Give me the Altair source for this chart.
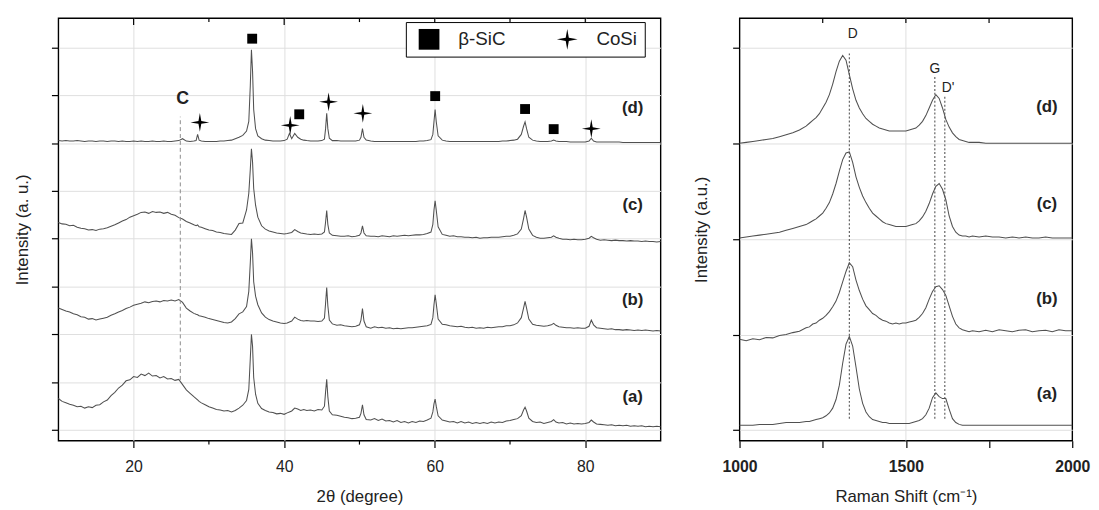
import altair as alt
import pandas as pd

# ---------------- XRD data (2theta in degrees, stacked intensities) ----------------
XRD_X = [
    10.0, 10.5, 11.0, 11.5, 12.0, 12.5, 13.0, 13.5, 14.0, 14.5,
    15.0, 15.5, 16.0, 16.5, 17.0, 17.5, 18.0, 18.5, 19.0, 19.5,
    20.0, 20.5, 21.0, 21.5, 22.0, 22.5, 23.0, 23.5, 24.0, 24.5,
    25.0, 25.5, 26.0, 26.5, 27.0, 27.5, 28.0,
    28.3, 28.5, 28.7, 29.0, 29.5, 30.0, 30.5, 31.0, 31.5, 32.0,
    32.5, 33.0, 33.5, 34.0, 34.5, 35.0, 35.3, 35.5, 35.65, 35.8,
    35.95, 36.2, 36.5, 37.0, 37.5, 38.0, 38.5, 39.0, 39.5, 40.0,
    40.4, 40.7, 41.0, 41.4, 41.8, 42.2, 42.6, 43.0, 43.5, 44.0,
    44.5, 45.0, 45.35, 45.5, 45.65, 45.8, 46.0, 46.4, 47.0, 47.5,
    48.0, 48.5, 49.0, 49.5, 50.0, 50.2, 50.4, 50.6, 50.9, 51.5,
    52.0, 52.5, 53.0, 53.5, 54.0, 54.5, 55.0, 55.5, 56.0, 56.5, 57.0, 57.5, 58.0, 58.5, 59.0,
    59.5, 59.75, 59.9, 60.05, 60.2, 60.45, 61.0,
    61.5, 62.0, 62.5, 63.0, 63.5, 64.0, 64.5, 65.0, 65.5, 66.0,
    66.5, 67.0, 67.5, 68.0, 68.5, 69.0, 69.5, 70.0, 70.5, 71.0,
    71.5, 71.8, 72.0, 72.2, 72.5, 73.0, 73.5, 74.0, 74.5, 75.0,
    75.5, 75.8, 76.1, 76.5, 77.0, 77.5, 78.0, 78.5, 79.0, 79.5,
    80.0, 80.5, 80.8, 81.1, 81.5, 82.0, 82.5, 83.0, 83.5, 84.0,
    84.5, 85.0, 85.5, 86.0, 86.5, 87.0, 87.5, 88.0, 88.5, 89.0, 89.5, 90.0,
]

XRD_D = [
    6.05, 6.04, 6.05, 6.04, 6.04, 6.05, 6.04, 6.03, 6.04, 6.04,
    6.03, 6.04, 6.04, 6.03, 6.04, 6.04, 6.03, 6.04, 6.03, 6.03,
    6.04, 6.03, 6.04, 6.03, 6.03, 6.04, 6.03, 6.03, 6.04, 6.03,
    6.03, 6.04, 6.05, 6.09, 6.04, 6.03, 6.04,
    6.05, 6.18, 6.06, 6.04, 6.03, 6.03, 6.03, 6.03, 6.04, 6.04,
    6.05, 6.06, 6.09, 6.12, 6.16, 6.25, 6.45, 7.20, 7.95, 7.50,
    6.70, 6.30, 6.15, 6.09, 6.06, 6.05, 6.04, 6.04, 6.04, 6.05,
    6.08, 6.20, 6.09, 6.20, 6.12, 6.08, 6.06, 6.05, 6.04, 6.04,
    6.04, 6.05, 6.08, 6.30, 6.62, 6.30, 6.10, 6.05, 6.05, 6.04,
    6.04, 6.04, 6.04, 6.04, 6.06, 6.12, 6.30, 6.12, 6.06, 6.04,
    6.03, 6.03, 6.03, 6.03, 6.03, 6.03, 6.03, 6.03, 6.03, 6.03, 6.03, 6.03, 6.04, 6.04, 6.05,
    6.07, 6.18, 6.45, 6.70, 6.45, 6.15, 6.06,
    6.04, 6.03, 6.03, 6.03, 6.03, 6.03, 6.03, 6.03, 6.03, 6.03,
    6.03, 6.03, 6.03, 6.03, 6.03, 6.04, 6.04, 6.05, 6.06, 6.08,
    6.18, 6.35, 6.44, 6.30, 6.12, 6.06, 6.04, 6.03, 6.03, 6.03,
    6.04, 6.06, 6.04, 6.03, 6.03, 6.03, 6.02, 6.02, 6.02, 6.02,
    6.02, 6.04, 6.10, 6.04, 6.02, 6.02, 6.02, 6.02, 6.02, 6.02,
    6.02, 6.01, 6.01, 6.01, 6.01, 6.01, 6.01, 6.01, 6.01, 6.01, 6.01, 6.01,
]

XRD_C = [
    4.34, 4.31, 4.30, 4.27, 4.28, 4.24, 4.22, 4.21, 4.18, 4.19,
    4.17, 4.20, 4.21, 4.23, 4.26, 4.29, 4.33, 4.37, 4.40, 4.45,
    4.48, 4.51, 4.55, 4.56, 4.53, 4.57, 4.55, 4.56, 4.53, 4.55,
    4.51, 4.49, 4.44, 4.41, 4.36, 4.33, 4.29,
    4.27, 4.29, 4.25, 4.24, 4.21, 4.18, 4.17, 4.14, 4.13, 4.11,
    4.10, 4.09, 4.18, 4.32, 4.33, 4.60, 4.95, 5.45, 5.88, 5.60,
    5.05, 4.70, 4.45, 4.27, 4.20, 4.16, 4.14, 4.12, 4.11, 4.10,
    4.11, 4.12, 4.13, 4.19, 4.15, 4.12, 4.11, 4.10, 4.09, 4.10,
    4.09, 4.10, 4.14, 4.35, 4.59, 4.30, 4.12, 4.07, 4.06, 4.05,
    4.05, 4.06, 4.04, 4.05, 4.07, 4.12, 4.27, 4.12, 4.06, 4.05,
    4.05, 4.04, 4.06, 4.05, 4.04, 4.06, 4.05, 4.06, 4.07, 4.06, 4.07, 4.08, 4.08, 4.09, 4.11,
    4.14, 4.30, 4.60, 4.79, 4.60, 4.25, 4.09,
    4.07, 4.05, 4.06, 4.04, 4.04, 4.03, 4.03, 4.02, 4.03, 4.01,
    4.02, 4.02, 4.03, 4.03, 4.03, 4.04, 4.05, 4.05, 4.07, 4.10,
    4.20, 4.42, 4.59, 4.45, 4.20, 4.07, 4.03, 4.01, 4.01, 4.02,
    4.03, 4.06, 4.03, 4.01, 3.99, 3.99, 3.98, 3.99, 3.98, 3.98,
    3.99, 4.01, 4.05, 4.02, 3.99, 3.97, 3.98, 3.97, 3.96, 3.97,
    3.96, 3.96, 3.95, 3.96, 3.95, 3.95, 3.94, 3.95, 3.94, 3.94, 3.93, 3.94,
]

XRD_B = [
    2.55, 2.52, 2.49, 2.47, 2.43, 2.41, 2.37, 2.36, 2.32, 2.33,
    2.30, 2.32, 2.34, 2.36, 2.40, 2.43, 2.47, 2.50, 2.54, 2.57,
    2.61, 2.63, 2.65, 2.68, 2.66, 2.69, 2.70, 2.68, 2.71, 2.70,
    2.72, 2.70, 2.73, 2.67, 2.55, 2.49, 2.44,
    2.42, 2.41, 2.39, 2.38, 2.36, 2.33, 2.31, 2.29, 2.27, 2.25,
    2.24, 2.26, 2.33, 2.43, 2.47, 2.58, 2.90, 3.50, 4.00, 3.70,
    3.10, 2.80, 2.62, 2.45, 2.36, 2.31, 2.28, 2.26, 2.24, 2.23,
    2.24, 2.26, 2.28, 2.36, 2.32, 2.29, 2.28, 2.29, 2.28, 2.28,
    2.27, 2.28, 2.34, 2.65, 2.98, 2.60, 2.30, 2.22, 2.19, 2.20,
    2.18, 2.17, 2.16, 2.17, 2.20, 2.30, 2.54, 2.28, 2.16, 2.13,
    2.16, 2.14, 2.15, 2.13, 2.14, 2.12, 2.13, 2.12, 2.13, 2.14, 2.14, 2.15, 2.16, 2.17, 2.18,
    2.21, 2.35, 2.62, 2.83, 2.65, 2.32, 2.21,
    2.20, 2.18, 2.17, 2.16, 2.17, 2.15, 2.14, 2.15, 2.13, 2.14,
    2.13, 2.15, 2.14, 2.15, 2.16, 2.16, 2.18, 2.18, 2.20, 2.24,
    2.35, 2.55, 2.69, 2.55, 2.32, 2.21, 2.19, 2.18, 2.17, 2.18,
    2.20, 2.23, 2.19, 2.16, 2.15, 2.14, 2.14, 2.13, 2.14, 2.13,
    2.13, 2.17, 2.30, 2.20, 2.14, 2.13, 2.12, 2.11, 2.12, 2.10,
    2.10, 2.09, 2.10, 2.09, 2.08, 2.09, 2.08, 2.09, 2.08, 2.07, 2.08, 2.07,
]

XRD_A = [
    0.66, 0.60, 0.57, 0.54, 0.52, 0.49, 0.50, 0.46, 0.49, 0.47,
    0.52, 0.53, 0.59, 0.63, 0.72, 0.79, 0.88, 0.94, 1.03, 1.05,
    1.12, 1.10, 1.17, 1.14, 1.19, 1.13, 1.14, 1.09, 1.12, 1.07,
    1.08, 1.04, 1.06, 0.95, 0.84, 0.77, 0.70,
    0.66, 0.63, 0.60, 0.57, 0.53, 0.49, 0.46, 0.43, 0.42, 0.40,
    0.41, 0.38, 0.41, 0.46, 0.52, 0.62, 0.85, 1.50, 2.00, 1.75,
    1.10, 0.75, 0.56, 0.45, 0.41, 0.38, 0.37, 0.34, 0.35, 0.33,
    0.36, 0.38, 0.40, 0.46, 0.44, 0.41, 0.43, 0.41, 0.42, 0.40,
    0.43, 0.42, 0.50, 0.80, 1.06, 0.70, 0.40, 0.32, 0.31, 0.29,
    0.27, 0.26, 0.24, 0.25, 0.27, 0.35, 0.53, 0.32, 0.22, 0.21,
    0.24, 0.20, 0.23, 0.19, 0.20, 0.17, 0.20, 0.16, 0.18, 0.15, 0.18, 0.16, 0.19, 0.18, 0.21,
    0.25, 0.38, 0.55, 0.65, 0.50, 0.30, 0.21,
    0.19, 0.17, 0.18, 0.15, 0.18, 0.15, 0.17, 0.14, 0.16, 0.14,
    0.16, 0.14, 0.17, 0.15, 0.17, 0.16, 0.19, 0.20, 0.22, 0.24,
    0.30, 0.42, 0.48, 0.40, 0.25, 0.18, 0.16, 0.17, 0.14, 0.16,
    0.18, 0.22, 0.17, 0.15, 0.16, 0.13, 0.15, 0.13, 0.14, 0.13,
    0.14, 0.16, 0.21, 0.17, 0.13, 0.12, 0.11, 0.10, 0.11, 0.09,
    0.10, 0.09, 0.10, 0.08, 0.09, 0.08, 0.09, 0.07, 0.08, 0.07, 0.08, 0.07,
]

XRD_TRACES = ["(a)", "(b)", "(c)", "(d)"]
XRD_LABEL_X = 86.3
XRD_LABEL_Y = [0.685, 2.72, 4.70, 6.74]

PHASES = ["β-SiC", "CoSi"]
SIC_X = [35.75, 42.0, 60.06, 72.0, 75.8]
SIC_Y = [8.18, 6.60, 6.98, 6.71, 6.29]
COSI_X = [28.8, 40.8, 45.9, 50.45, 80.8]
COSI_Y = [6.43, 6.37, 6.86, 6.62, 6.30]

C_LINE_X = 26.2
C_LINE_Y = [1.05, 6.55]
C_TEXT_X, C_TEXT_Y = 26.5, 6.91

XRD_MAJOR = [20, 40, 60, 80]
XRD_MINOR = [30, 50, 70]

# ---------------- Raman data ----------------
RAMAN_X = [
    1000, 1020, 1040, 1060, 1080, 1100, 1120, 1140, 1160, 1180, 1200,
    1210, 1220, 1230, 1240, 1250, 1260, 1270, 1280, 1290, 1300,
    1310, 1320, 1330, 1340, 1350, 1360, 1370, 1380, 1390, 1400,
    1410, 1420, 1430, 1440, 1450, 1460, 1470, 1480, 1490, 1500,
    1510, 1520, 1530, 1540, 1550, 1560, 1570, 1580, 1590, 1600,
    1610, 1620, 1630, 1640, 1650, 1660, 1670, 1680, 1690, 1700,
    1720, 1740, 1760, 1780, 1800, 1820, 1840, 1860, 1880, 1900,
    1920, 1940, 1960, 1980, 2000,
]

RAMAN_D = [
    3.00, 3.01, 3.02, 3.03, 3.04, 3.05, 3.07, 3.09, 3.11, 3.14, 3.18,
    3.21, 3.24, 3.27, 3.31, 3.37, 3.43, 3.51, 3.62, 3.75, 3.86,
    3.92, 3.87, 3.72, 3.57, 3.45, 3.37, 3.31, 3.26, 3.23, 3.20,
    3.18, 3.16, 3.15, 3.14, 3.13, 3.13, 3.13, 3.13, 3.13, 3.13,
    3.14, 3.15, 3.16, 3.19, 3.23, 3.29, 3.37, 3.45, 3.51, 3.47,
    3.37, 3.25, 3.17, 3.11, 3.07, 3.04, 3.03, 3.02, 3.01, 3.01,
    3.01, 3.00, 3.00, 3.00, 3.00, 3.00, 3.00, 3.00, 3.00, 3.00,
    3.00, 3.00, 3.00, 3.00, 3.00,
]

RAMAN_C = [
    2.01, 2.02, 2.03, 2.04, 2.05, 2.06, 2.07, 2.09, 2.11, 2.13, 2.15,
    2.17, 2.19, 2.21, 2.24, 2.27, 2.32, 2.38, 2.47, 2.58, 2.71,
    2.83, 2.90, 2.91, 2.80, 2.65, 2.54, 2.45, 2.38, 2.32, 2.27,
    2.24, 2.21, 2.18, 2.16, 2.15, 2.14, 2.13, 2.13, 2.13, 2.13,
    2.14, 2.15, 2.16, 2.19, 2.23, 2.29, 2.37, 2.47, 2.55, 2.58,
    2.52, 2.41, 2.24, 2.13, 2.07, 2.04, 2.03, 2.03, 2.02, 2.03,
    2.02, 2.03, 2.02, 2.02, 2.01, 2.02, 2.01, 2.02, 2.01, 2.01,
    2.02, 2.01, 2.01, 2.01, 2.01,
]

RAMAN_B = [
    0.950, 0.935, 0.955, 0.945, 0.970, 0.965, 0.990, 1.000, 1.020, 1.035, 1.070,
    1.08, 1.11, 1.12, 1.15, 1.17, 1.20, 1.24, 1.29, 1.35, 1.44,
    1.55, 1.66, 1.75, 1.71, 1.57, 1.46, 1.37, 1.30, 1.26, 1.22,
    1.20, 1.17, 1.15, 1.14, 1.12, 1.11, 1.12, 1.11, 1.12, 1.12,
    1.13, 1.14, 1.15, 1.18, 1.22, 1.28, 1.37, 1.45, 1.50, 1.51,
    1.47, 1.41, 1.30, 1.19, 1.11, 1.07, 1.05, 1.04, 1.03, 1.04,
    1.030, 1.045, 1.030, 1.050, 1.040, 1.030, 1.045, 1.050, 1.030, 1.040,
    1.045, 1.030, 1.050, 1.040, 1.040,
]

RAMAN_A = [
    0.05, 0.05, 0.05, 0.06, 0.06, 0.06, 0.07, 0.08, 0.08, 0.08, 0.09,
    0.09, 0.10, 0.11, 0.12, 0.13, 0.15, 0.18, 0.23, 0.32, 0.47,
    0.70, 0.90, 0.98, 0.88, 0.66, 0.43, 0.28, 0.19, 0.14, 0.11,
    0.10, 0.09, 0.08, 0.08, 0.07, 0.07, 0.07, 0.07, 0.07, 0.07,
    0.07, 0.08, 0.09, 0.10, 0.12, 0.16, 0.23, 0.34, 0.39, 0.35,
    0.33, 0.33, 0.22, 0.12, 0.08, 0.06, 0.05, 0.05, 0.05, 0.05,
    0.05, 0.05, 0.05, 0.05, 0.05, 0.05, 0.05, 0.05, 0.05, 0.05,
    0.05, 0.05, 0.05, 0.05, 0.05,
]

RAMAN_LABEL_X = 1924
RAMAN_LABEL_Y = [0.38, 1.375, 2.37, 3.38]
BAND_NAMES = ["D", "G", "D'"]
BAND_X = [1330, 1587, 1617]
BAND_TOP = [3.96, 3.70, 3.49]
BAND_BOTTOM = 0.12
BAND_TEXT_X = [1340, 1587, 1627]
BAND_TEXT_Y = [4.145, 3.78, 3.58]
RAMAN_TICKS = [1000, 1250, 1500, 1750, 2000]
RAMAN_TOP_TICKS = [1250, 1500, 1750]

# ---------------- build ----------------
FONT = "Liberation Sans"
INK = "#222222"
TRACE = "#505050"
GRID = "#dedede"
STAR = "M0,-1L0.15,-0.15L1,0L0.15,0.15L0,1L-0.15,0.15L-1,0L-0.15,-0.15Z"

LW, LH = 610, 428
RW, RH = 337, 428
PAD_L, PAD_T = 4, 5


def stack(xs, names, series):
    rows = []
    for name, ys in zip(names, series):
        assert len(ys) == len(xs), (name, len(ys), len(xs))
        rows += [{"x": x, "y": y, "trace": name} for x, y in zip(xs, ys)]
    return pd.DataFrame(rows)


xrd_df = stack(XRD_X, XRD_TRACES, [XRD_A, XRD_B, XRD_C, XRD_D])
raman_df = stack(RAMAN_X, XRD_TRACES, [RAMAN_A, RAMAN_B, RAMAN_C, RAMAN_D])

common_axis = dict(domain=False, tickSize=7, tickColor="black", tickWidth=1.2,
                   titleFontSize=17, titleFontWeight="normal", titleColor=INK,
                   labelColor=INK, gridColor=GRID, gridWidth=1)

XL = alt.X("x:Q", scale=alt.Scale(domain=[10, 90], nice=False, zero=False),
           axis=alt.Axis(values=XRD_MAJOR, title="2θ (degree)", grid=True, labelFontSize=16,
                         labelPadding=11, titlePadding=15, labelFlush=False, **common_axis))
YL = alt.Y("y:Q", scale=alt.Scale(domain=[-0.22, 8.61], nice=False, zero=False),
           axis=alt.Axis(values=list(range(9)), labels=False, grid=True,
                         title="Intensity (a. u.)", titlePadding=20, **common_axis))
XR = alt.X("x:Q", scale=alt.Scale(domain=[1000, 2000], nice=False, zero=False),
           axis=alt.Axis(values=RAMAN_TICKS, title="Raman Shift (cm⁻¹)", grid=False,
                         labelExpr="datum.value % 500 == 0 ? format(datum.value, 'd') : ''",
                         labelFontSize=16, labelFontWeight="bold", labelPadding=11,
                         titlePadding=15, labelFlush=False, **common_axis))
YR = alt.Y("y:Q", scale=alt.Scale(domain=[-0.11, 4.31], nice=False, zero=False),
           axis=alt.Axis(values=[0, 1, 2, 3, 4], labels=False, grid=True,
                         title="Intensity (a.u.)", titlePadding=22, **common_axis))

# ---- left: XRD ----
left_lines = alt.Chart(xrd_df).mark_line(color=TRACE, strokeWidth=1.05).encode(
    x=XL, y=YL, detail="trace:N")

c_line = alt.Chart(pd.DataFrame({"x": [C_LINE_X], "y": [C_LINE_Y[0]], "y2": [C_LINE_Y[1]]})).mark_rule(
    color="#8a8a8a", strokeWidth=1, strokeDash=[4, 3]).encode(x=XL, y=YL, y2="y2:Q")

c_text = alt.Chart(pd.DataFrame({"x": [C_TEXT_X], "y": [C_TEXT_Y], "t": ["C"]})).mark_text(
    fontSize=18, fontWeight="bold", color=INK).encode(x=XL, y=YL, text="t:N")

legend = alt.Legend(title=None, orient="none", direction="horizontal",
                    legendX=352, legendY=4, padding=7, gridAlign="all",
                    strokeColor="black", fillColor="white", cornerRadius=0,
                    symbolSize=441, symbolFillColor="black", symbolStrokeWidth=0, symbolOpacity=1,
                    symbolOffset=6, labelFontSize=19, labelColor=INK, labelOffset=19,
                    columnPadding=46)
shape_scale = alt.Scale(domain=PHASES, range=["square", STAR])

sic_pts = alt.Chart(pd.DataFrame({"x": SIC_X, "y": SIC_Y, "phase": [PHASES[0]] * len(SIC_X)})).mark_point(
    filled=True, size=100, color="black", opacity=1).encode(
    x=XL, y=YL, shape=alt.Shape("phase:N", scale=shape_scale, legend=legend))
cosi_pts = alt.Chart(pd.DataFrame({"x": COSI_X, "y": COSI_Y, "phase": [PHASES[1]] * len(COSI_X)})).mark_point(
    filled=True, size=361, color="black", opacity=1).encode(
    x=XL, y=YL, shape=alt.Shape("phase:N", scale=shape_scale, legend=legend))

left_labels = alt.Chart(pd.DataFrame({"x": [XRD_LABEL_X] * 4, "y": XRD_LABEL_Y, "t": XRD_TRACES})).mark_text(
    fontSize=17, fontWeight="bold", color=INK).encode(x=XL, y=YL, text="t:N")

top_major_l = alt.Chart(pd.DataFrame({"x": XRD_MAJOR})).mark_rule(color="black", strokeWidth=1.2).encode(
    x=XL, y=alt.value(0), y2=alt.value(7))
top_minor_l = alt.Chart(pd.DataFrame({"x": XRD_MINOR})).mark_rule(color="black", strokeWidth=1.2).encode(
    x=XL, y=alt.value(0), y2=alt.value(4))
bot_minor_l = alt.Chart(pd.DataFrame({"x": XRD_MINOR})).mark_rule(color="black", strokeWidth=1.2).encode(
    x=XL, y=alt.value(LH), y2=alt.value(LH + 4))

left = alt.layer(left_lines, c_line, c_text, sic_pts, cosi_pts, left_labels,
                 top_major_l, top_minor_l, bot_minor_l).properties(width=LW, height=LH)

# ---- right: Raman ----
grid1500 = alt.Chart(pd.DataFrame({"x": [1500]})).mark_rule(color=GRID, strokeWidth=1).encode(
    x=XR, y=alt.value(0), y2=alt.value(RH))

right_lines = alt.Chart(raman_df).mark_line(color=TRACE, strokeWidth=1.05).encode(
    x=XR, y=YR, detail="trace:N")

band_df = pd.DataFrame({"x": BAND_X, "y": [BAND_BOTTOM] * 3, "y2": BAND_TOP})
band_lines = alt.Chart(band_df).mark_rule(color="#555555", strokeWidth=1.1, strokeDash=[2, 2]).encode(
    x=XR, y=YR, y2="y2:Q")

band_text = alt.Chart(pd.DataFrame({"x": BAND_TEXT_X, "y": BAND_TEXT_Y, "t": BAND_NAMES})).mark_text(
    fontSize=14, color=INK).encode(x=XR, y=YR, text="t:N")

right_labels = alt.Chart(pd.DataFrame({"x": [RAMAN_LABEL_X] * 4, "y": RAMAN_LABEL_Y, "t": XRD_TRACES})).mark_text(
    fontSize=17, fontWeight="bold", color=INK).encode(x=XR, y=YR, text="t:N")

top_r = alt.Chart(pd.DataFrame({"x": RAMAN_TOP_TICKS})).mark_rule(color="black", strokeWidth=1.2).encode(
    x=XR, y=alt.value(0), y2=alt.value(5))

right = alt.layer(grid1500, right_lines, band_lines, band_text, right_labels, top_r).properties(
    width=RW, height=RH)

chart = alt.hconcat(left, right, spacing=28).configure(
    font=FONT, padding={"left": PAD_L, "top": PAD_T, "right": 0, "bottom": 0}
).configure_view(stroke="black", strokeWidth=1.4)

chart.save("out.html", embed_options={"renderer": "svg", "actions": False})
